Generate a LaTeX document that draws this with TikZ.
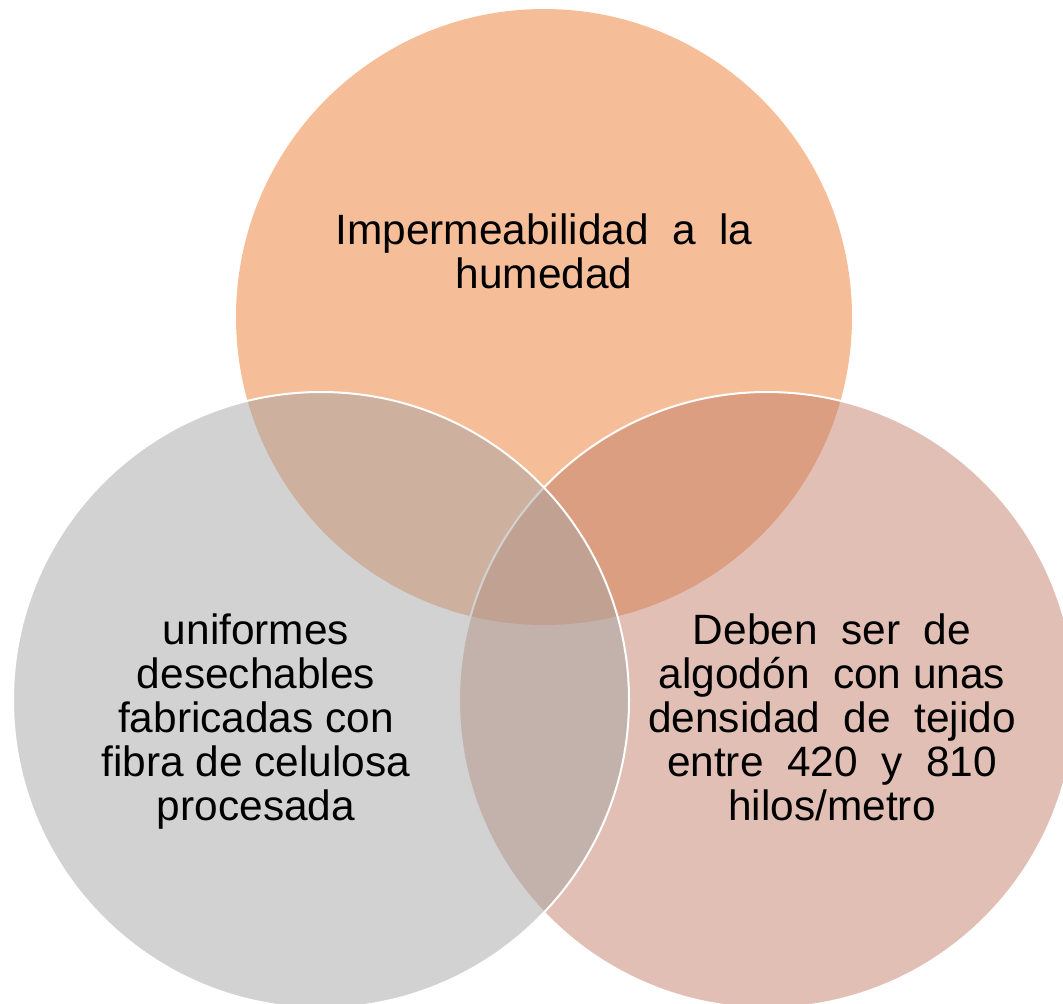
\documentclass[tikz,border=0pt]{standalone}
\usepackage{fontspec}
\setmainfont{Liberation Sans}
\usetikzlibrary{positioning}
\definecolor{venntop}{RGB}{237,125,49}
\definecolor{vennright}{RGB}{195,127,107}
\definecolor{vennleft}{RGB}{165,165,165}
\tikzset{%
  venn/.style  = {circle, minimum size = 616pt, inner sep = 0pt,
    fill opacity = 0.5}, % SmartArt circle
  rim/.style   = {draw = white, line width = 2pt}, % white edge
  vtext/.style = {align = center, inner sep = 0pt, anchor = base,
    font = \fontsize{42.4}{44}\selectfont} % circle text, base = last line
}

\begin{document}
\begin{tikzpicture}[x=1pt, y=-1pt]
\useasboundingbox (0,0) rectangle (1063,1004);

\node[venn, fill=venntop] (top) at (544,317) {};
\node[venn, rim, fill=vennright] (right) at (767,700) {};
\node[venn, rim, fill=vennleft] (left) at (321,700) {};

\node[vtext] (toptext) at (544,288)
    {Impermeabilidad\ \ a\ \ la\\humedad};
\node[vtext] (lefttext) at (256,820)
    {uniformes\\desechables\\fabricadas con\\fibra de celulosa\\procesada};
\node[vtext] (righttext) at (832,820)
    {Deben\ \ ser\ \ de\\algodón\ \ con unas\\densidad\ \ de\ \ tejido\\entre\ \ 420\ \ y\ \ 810\\hilos/metro};
\end{tikzpicture}
\end{document}
